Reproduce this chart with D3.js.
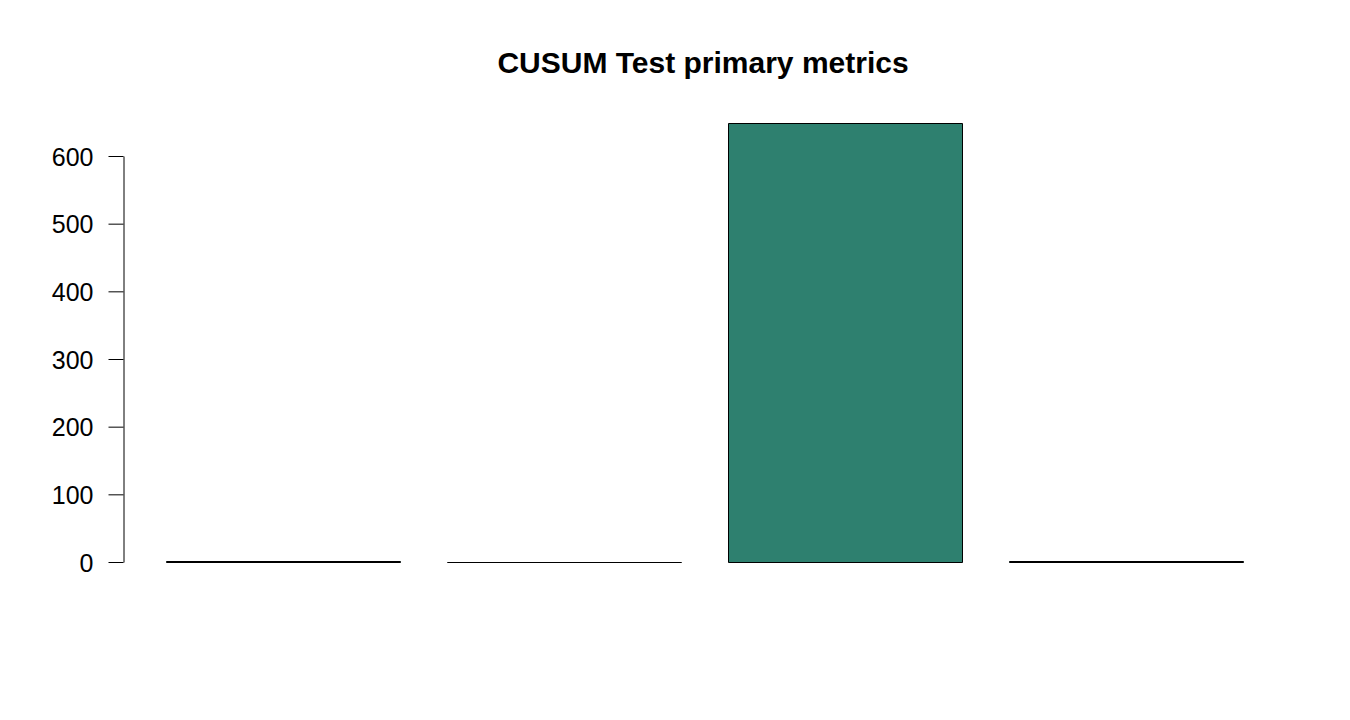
<!DOCTYPE html>
<html>
<head>
<meta charset="utf-8">
<script src="https://cdn.jsdelivr.net/npm/d3@7"></script>
<style>
  body { margin: 0; background: #fff; }
  text { font-family: "Liberation Sans", Arial, sans-serif; }
</style>
</head>
<body>
<script>
// bar data
var metrics = ["m1", "m2", "m3", "m4"];
var values = [1.5, 0, 649, 1.3];
var yTicks = [0, 100, 200, 300, 400, 500, 600];

var width = 1350,
    height = 720;

var svg = d3.select("body").append("svg")
    .attr("width", width)
    .attr("height", height);

// set the ranges
var x = d3.scaleBand()
    .domain(metrics)
    .range([166, 1243])
    .paddingInner(1 / 6)
    .paddingOuter(0);

var y = d3.scaleLinear()
    .domain([0, 600])
    .range([562, 156]);

// title
svg.append("text")
    .attr("x", 703)
    .attr("y", 73)
    .attr("text-anchor", "middle")
    .style("font-size", "30px")
    .style("font-weight", "bold")
    .text("CUSUM Test primary metrics");

// bars drawn as closed paths so a zero-height bar still shows its outline
svg.selectAll(".bar")
    .data(values)
    .enter().append("path")
    .attr("class", "bar")
    .attr("d", function(d, i) {
        var x0 = Math.round(x(metrics[i])) + 0.5,
            x1 = x0 + Math.round(x.bandwidth()),
            y0 = Math.round(y(0)) + 0.5,
            y1 = Math.round(y(d)) + 0.5;
        return "M" + x0 + "," + y0 + "V" + y1 + "H" + x1 + "V" + y0 + "Z";
    })
    .attr("fill", "#2E806F")
    .attr("stroke", "#000")
    .attr("stroke-width", 1);

// y axis
var yAxis = svg.append("g")
    .attr("transform", "translate(123.5,0)")
    .call(d3.axisLeft(y)
        .tickValues(yTicks)
        .tickSize(15)
        .tickSizeOuter(0)
        .tickPadding(15));

yAxis.selectAll("text")
    .style("font-size", "25px")
    .attr("fill", "#000")
    .attr("dy", "0.36em");
yAxis.selectAll("line, path").attr("stroke", "#000");
</script>
</body>
</html>
